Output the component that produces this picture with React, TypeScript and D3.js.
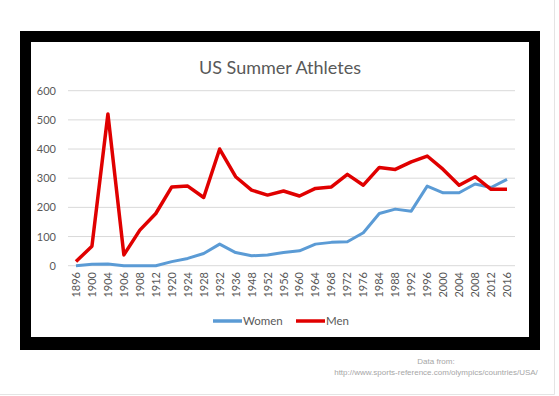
import React, { useEffect, useRef } from 'react';
import * as d3 from 'd3';

const years = ['1896', '1900', '1904', '1906', '1908', '1912', '1920', '1924', '1928', '1932', '1936', '1948', '1952', '1956', '1960', '1964', '1968', '1972', '1976', '1984', '1988', '1992', '1996', '2000', '2004', '2008', '2012', '2016'];
const women = [0, 5, 6, 0, 0, 0, 14, 25, 42, 74, 45, 34, 37, 45, 51, 74, 80, 82, 113, 179, 194, 187, 273, 250, 250, 280, 268, 296];
const men = [14, 67, 520, 37, 122, 179, 270, 273, 234, 400, 305, 259, 242, 256, 239, 265, 270, 313, 276, 337, 330, 356, 376, 330, 276, 305, 262, 262];
const yTicks = [0, 100, 200, 300, 400, 500, 600];

const App = () => {
    const chartRef = useRef<SVGSVGElement>(null);

    useEffect(() => {
        const svg = d3.select(chartRef.current);
        svg.selectAll('*').remove();

        const W = 559, H = 396;
        const font = 'Lato, "Open Sans", sans-serif';

        // page background + faint edge
        svg.append('rect').attr('width', W).attr('height', H).attr('fill', '#fff');
        svg.append('path').attr('d', `M554.5,0V394.5H0`).attr('stroke', '#e4e4e4').attr('fill', 'none');

        // black frame
        svg.append('rect').attr('x', 20).attr('y', 31).attr('width', 520).attr('height', 319).attr('fill', '#000');
        svg.append('rect').attr('x', 31).attr('y', 42).attr('width', 498).attr('height', 295).attr('fill', '#fff');

        svg.append('text')
            .attr('x', 280).attr('y', 74)
            .attr('text-anchor', 'middle')
            .attr('font-family', font).attr('font-size', 18)
            .attr('fill', '#595959')
            .text('US Summer Athletes');

        const x = d3.scaleBand().domain(years).range([68, 515]);
        const y = d3.scaleLinear().domain([0, 600]).range([265.7, 90.7]);

        // gridlines
        svg.append('g').selectAll('line').data(yTicks).enter().append('line')
            .attr('x1', 68).attr('x2', 515)
            .attr('y1', d => y(d)).attr('y2', d => y(d))
            .attr('stroke', '#d9d9d9').attr('stroke-width', 1);

        // y labels
        svg.append('g').selectAll('text').data(yTicks).enter().append('text')
            .attr('x', 56).attr('y', d => y(d) + 4)
            .attr('text-anchor', 'end')
            .attr('font-family', font).attr('font-size', 11)
            .attr('fill', '#595959')
            .text(d => d);

        // x labels (rotated)
        svg.append('g').selectAll('text').data(years).enter().append('text')
            .attr('transform', d => `translate(${x(d)! + x.bandwidth() / 2 + 4},272) rotate(-90)`)
            .attr('text-anchor', 'end')
            .attr('font-family', font).attr('font-size', 11)
            .attr('fill', '#595959')
            .text(d => d);

        const line = d3.line<number>()
            .x((_, i) => x(years[i])! + x.bandwidth() / 2)
            .y(d => y(d));

        svg.append('path').datum(women)
            .attr('d', line).attr('fill', 'none')
            .attr('stroke', '#5b9bd5').attr('stroke-width', 3)
            .attr('stroke-linejoin', 'round');

        svg.append('path').datum(men)
            .attr('d', line).attr('fill', 'none')
            .attr('stroke', '#e00000').attr('stroke-width', 3.5)
            .attr('stroke-linejoin', 'round');

        // legend
        const legend = [
            { name: 'Women', color: '#5b9bd5', x: 213 },
            { name: 'Men', color: '#e00000', x: 296 },
        ];
        const lg = svg.append('g').selectAll('g').data(legend).enter().append('g');
        lg.append('line')
            .attr('x1', d => d.x).attr('x2', d => d.x + 29)
            .attr('y1', 321).attr('y2', 321)
            .attr('stroke', d => d.color).attr('stroke-width', 3.5);
        lg.append('text')
            .attr('x', d => d.x + 30).attr('y', 325)
            .attr('font-family', font).attr('font-size', 11.5)
            .attr('fill', '#595959')
            .text(d => d.name);

        // source note
        svg.append('text')
            .attr('x', 436).attr('y', 364)
            .attr('text-anchor', 'middle')
            .attr('font-family', '"Liberation Sans", Arial, sans-serif').attr('font-size', 8)
            .attr('fill', '#a6a6a6')
            .text('Data from:');
        svg.append('text')
            .attr('x', 436).attr('y', 375)
            .attr('text-anchor', 'middle')
            .attr('font-family', '"Liberation Sans", Arial, sans-serif').attr('font-size', 8)
            .attr('fill', '#a6a6a6')
            .text('http://www.sports-reference.com/olympics/countries/USA/');
    }, []);

    return (
        <div style={{ position: 'fixed', left: 0, top: 0 }}>
            <svg ref={chartRef} width={559} height={396} style={{ display: 'block' }} />
        </div>
    );
};

export default App;
